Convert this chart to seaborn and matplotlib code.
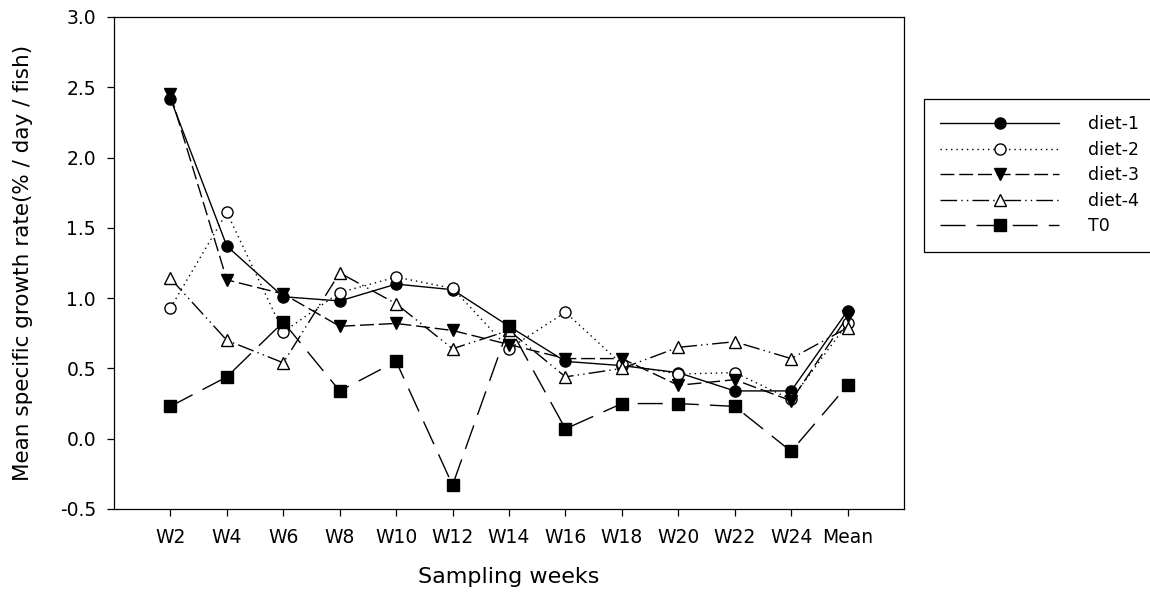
"""Mean specific growth rate per sampling week, four diets plus T0 control."""

import matplotlib

matplotlib.use("Agg")
import matplotlib.pyplot as plt  # noqa: E402
import numpy as np  # noqa: E402
import pandas as pd  # noqa: E402
import seaborn as sns  # noqa: E402

WEEKS = ["W2", "W4", "W6", "W8", "W10", "W12", "W14", "W16", "W18", "W20", "W22", "W24", "Mean"]
DIET1 = [2.42, 1.37, 1.01, 0.98, 1.10, 1.06, 0.80, 0.55, 0.52, 0.47, 0.34, 0.34, 0.91]
DIET2 = [0.93, 1.61, 0.76, 1.04, 1.15, 1.07, 0.64, 0.90, 0.53, 0.46, 0.47, 0.28, 0.82]
DIET3 = [2.45, 1.13, 1.03, 0.80, 0.82, 0.77, 0.67, 0.57, 0.57, 0.38, 0.42, 0.27, 0.87]
DIET4 = [1.14, 0.70, 0.54, 1.18, 0.96, 0.64, 0.77, 0.44, 0.50, 0.65, 0.69, 0.57, 0.79]
T0 = [0.23, 0.44, 0.83, 0.34, 0.55, -0.33, 0.80, 0.07, 0.25, 0.25, 0.23, -0.09, 0.38]
SERIES = ["diet-1", "diet-2", "diet-3", "diet-4", "T0"]
YTICKS = [-0.5, 0.0, 0.5, 1.0, 1.5, 2.0, 2.5, 3.0]

# estilo de cada serie: (linestyle, marker, relleno)
STYLE = {
    "diet-1": ("-", "o", "black"),
    "diet-2": ((0, (1, 2.8)), "o", "white"),
    "diet-3": ((0, (10, 3.5)), "v", "black"),
    "diet-4": ((0, (12, 3, 1, 3, 1, 3)), "^", "white"),
    "T0": ((0, (18, 8)), "s", "black"),
}

sns.set_theme(style="white", rc={"axes.edgecolor": "black", "axes.linewidth": 0.9, "text.color": "black"})
plt.rcParams["font.family"] = ["DejaVu Sans"]

df = pd.DataFrame(
    {
        "pos": np.tile(np.arange(len(WEEKS)), len(SERIES)),
        "rate": DIET1 + DIET2 + DIET3 + DIET4 + T0,
        "serie": np.repeat(SERIES, len(WEEKS)),
    }
)

fig = plt.figure(figsize=(11.5, 5.92), dpi=100)
ax = fig.add_axes([114 / 1150, 83 / 592, 790 / 1150, 492 / 592])

for s in SERIES:
    ls, mk, fc = STYLE[s]
    sns.lineplot(
        data=df[df.serie == s],
        x="pos",
        y="rate",
        color="black",
        linestyle=ls,
        lw=1.0,
        marker=mk,
        ms=8.5 if mk != "o" else 8,
        mfc=fc,
        mec="black",
        mew=1.0,
        errorbar=None,
        legend=False,
        label=s,
        ax=ax,
    )

ax.set_xlim(-1, len(WEEKS))
ax.set_ylim(-0.5, 3.0)
ax.set_xticks(range(len(WEEKS)), WEEKS)
ax.set_yticks(YTICKS, [f"{v:.1f}" for v in YTICKS])
ax.tick_params(axis="both", direction="out", length=5, width=0.9, color="black", labelsize=13.5, labelcolor="black")
ax.tick_params(axis="x", pad=9)
ax.tick_params(axis="y", pad=8)
ax.tick_params(bottom=True, left=True, top=False, right=False)
ax.set_xlabel("Sampling weeks", fontsize=16, labelpad=14, color="black")
ax.set_ylabel("Mean specific growth rate(% / day / fish)", fontsize=15.5, labelpad=19, color="black")

handles, labels = ax.get_legend_handles_labels()
leg = fig.legend(
    handles,
    labels,
    loc="upper left",
    bbox_to_anchor=(924 / 1150, 1 - 99 / 592 - 0.3, 0.3, 0.3),
    mode="expand",
    borderaxespad=0,
    fontsize=12.5,
    labelcolor="black",
    handlelength=6.8,
    handletextpad=1.7,
    borderpad=0.95,
    labelspacing=0.43,
    numpoints=1,
    fancybox=False,
    framealpha=1,
    edgecolor="black",
)
leg.get_frame().set_linewidth(0.9)

fig.savefig("out.png", dpi=100)
